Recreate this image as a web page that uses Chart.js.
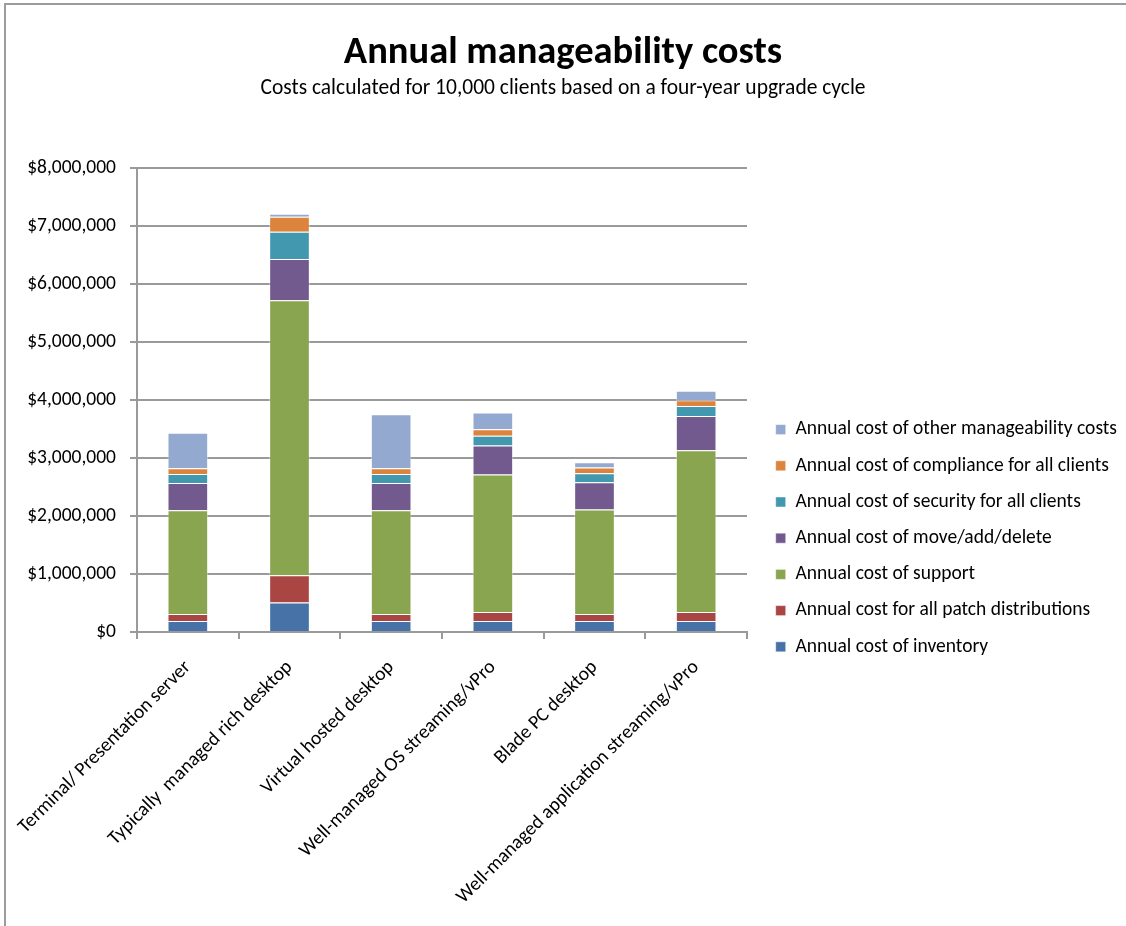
<!DOCTYPE html>
<html>
<head>
<meta charset="utf-8">
<title>Annual manageability costs</title>
<script src="https://cdn.jsdelivr.net/npm/chart.js@4"></script>
<style>
  body { margin: 0; background: #fff; }
  #frame { position: absolute; left: 4px; top: 3px; width: 1200px; height: 1000px;
           border-top: 2px solid #9c9c9c; border-left: 2px solid #9c9c9c; }
  #wrap { position: absolute; left: 0; top: 0; width: 1126px; height: 926px; }
</style>
</head>
<body>
<div id="frame"></div>
<div id="wrap"><canvas id="costChart"></canvas></div>
<script>
const categories = ['Terminal/ Presentation server', 'Typically  managed rich desktop', 'Virtual hosted desktop',
                    'Well-managed OS streaming/vPro', 'Blade PC desktop', 'Well-managed application streaming/vPro'];

const inventory     = [190000, 510000, 190000, 190000, 190000, 190000];
const patches       = [120000, 470000, 120000, 155000, 120000, 155000];
const support       = [1790000, 4740000, 1790000, 2370000, 1800000, 2790000];
const moveAddDelete = [470000, 710000, 470000, 500000, 470000, 590000];
const security      = [155000, 470000, 155000, 170000, 155000, 170000];
const compliance    = [100000, 260000, 100000, 110000, 100000, 100000];
const otherCosts    = [610000, 50000, 930000, 290000, 90000, 165000];

const yTicks = [0, 1000000, 2000000, 3000000, 4000000, 5000000, 6000000, 7000000, 8000000];

const FONT = 'Calibri, Carlito, Lato, sans-serif';
const gridColor = '#9a9a9a';
const LEGEND_WIDTH = 367;

function series(label, data, color) {
    return { label, data, backgroundColor: color, borderColor: 'rgba(255,255,255,0.45)', borderWidth: 1,
             barPercentage: 0.5, categoryPercentage: 0.8, yAxisID: 'y' };
}

new Chart(document.getElementById('costChart'), {
    type: 'bar',
    data: {
        labels: categories,
        datasets: [
            series('Annual cost of inventory', inventory, '#4672a8'),
            series('Annual cost for all patch distributions', patches, '#a94643'),
            series('Annual cost of support', support, '#8aa54f'),
            series('Annual cost of move/add/delete', moveAddDelete, '#725a8f'),
            series('Annual cost of security for all clients', security, '#4298ae'),
            series('Annual cost of compliance for all clients', compliance, '#dc843e'),
            series('Annual cost of other manageability costs', otherCosts, '#94a9d0')
        ]
    },
    options: {
        responsive: true,
        maintainAspectRatio: false,
        animation: false,
        layout: { padding: { left: 0, right: 0, top: 0, bottom: 21 } },
        plugins: {
            title: {
                display: true, text: 'Annual manageability costs', color: '#000',
                font: { family: FONT, size: 38.5, weight: 'bold', lineHeight: 1.2 },
                padding: { top: 30, bottom: 0 }
            },
            subtitle: {
                display: true, text: 'Costs calculated for 10,000 clients based on a four-year upgrade cycle', color: '#000',
                font: { family: FONT, size: 21.5, lineHeight: 1.2 },
                padding: { top: 0, bottom: 66 }
            },
            legend: {
                position: 'right',
                maxWidth: LEGEND_WIDTH,
                // empty title only pushes the items down to where the original sits
                title: { display: true, text: '', font: { size: 12, lineHeight: 1.2 }, padding: { top: 157, bottom: 0 } },
                labels: {
                    boxWidth: 10, boxHeight: 10, padding: 16.7, color: '#000',
                    font: { family: FONT, size: 19.5 }
                },
                reverse: true
            },
            tooltip: { enabled: false }
        },
        scales: {
            x: {
                stacked: true,
                grid: { drawOnChartArea: false, drawTicks: true, tickLength: 7, color: gridColor, lineWidth: 2 },
                border: { color: gridColor, width: 2 },
                ticks: { color: '#000', font: { family: FONT, size: 19.5 }, minRotation: 45, maxRotation: 45,
                         autoSkip: false, padding: 17 },
                afterFit: s => { s.height = 273; s.paddingLeft = 0; s.paddingRight = 0; }
            },
            y: {
                stacked: true, min: 0, max: 8000000,
                grid: { color: gridColor, lineWidth: 2, tickLength: 7 },
                border: { color: gridColor, width: 2 },
                afterBuildTicks: s => { s.ticks = yTicks.map(v => ({ value: v })); },
                ticks: { color: '#000', font: { family: FONT, size: 19.5 }, padding: 14,
                         callback: v => '$' + Number(v).toLocaleString('en-US') },
                afterFit: s => { s.width = 137; }
            },
            gap: {
                position: 'right', display: true,
                grid: { display: false }, border: { display: false }, ticks: { display: false },
                afterFit: s => { s.width = 12 + Math.max(0, LEGEND_WIDTH - s.chart.legend.width); }
            }
        }
    }
});
</script>
</body>
</html>
